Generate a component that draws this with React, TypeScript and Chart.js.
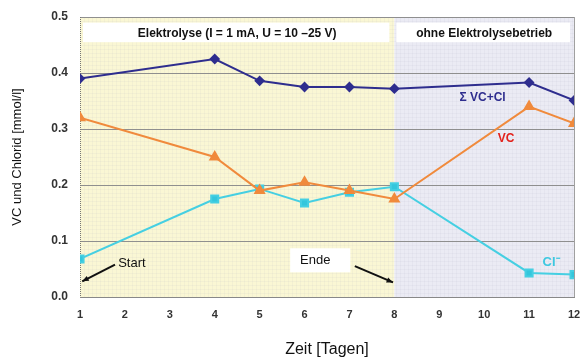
import React, { useEffect, useRef } from "react";
import { Chart, registerables } from "chart.js";

Chart.register(...registerables);

const days = [1, 4, 5, 6, 7, 8, 11, 12];
const sumValues = [0.39, 0.425, 0.386, 0.375, 0.375, 0.372, 0.383, 0.351];
const vcValues = [0.32, 0.25, 0.19, 0.205, 0.19, 0.175, 0.34, 0.31];
const clValues = [0.068, 0.175, 0.193, 0.168, 0.187, 0.197, 0.043, 0.04];
const xTicks = [1, 2, 3, 4, 5, 6, 7, 8, 9, 10, 11, 12];
const yTicks = [0, 0.1, 0.2, 0.3, 0.4, 0.5];
const phaseLabels = ["Elektrolyse (I = 1 mA, U = 10 –25 V)", "ohne Elektrolysebetrieb"];
const phaseBounds = [1, 8, 12];
const seriesNames = ["Σ VC+Cl", "VC", "Cl⁻"];

const FONT = "'Liberation Sans', Arial, sans-serif";

const overlayPlugin = {
  id: "overlay",
  beforeDatasetsDraw(chart: any) {
    const { ctx, chartArea, scales } = chart;
    const x = scales.x;
    const y = scales.y;
    const x1 = x.getPixelForValue(phaseBounds[0]);
    const x8 = x.getPixelForValue(phaseBounds[1]);
    const x12 = x.getPixelForValue(phaseBounds[2]);
    ctx.save();
    ctx.fillStyle = "#faf7d4";
    ctx.fillRect(x1, chartArea.top, x8 - x1, chartArea.bottom - chartArea.top);
    ctx.fillStyle = "#ebebf4";
    ctx.fillRect(x8, chartArea.top, x12 - x8, chartArea.bottom - chartArea.top);
    // fine texture grid
    ctx.strokeStyle = "rgba(150,150,185,0.07)";
    ctx.lineWidth = 1;
    for (let px = chartArea.left + 4; px < chartArea.right; px += 4) {
      ctx.beginPath();
      ctx.moveTo(Math.round(px) + 0.5, chartArea.top);
      ctx.lineTo(Math.round(px) + 0.5, chartArea.bottom);
      ctx.stroke();
    }
    for (let py = chartArea.top + 4; py < chartArea.bottom; py += 4) {
      ctx.beginPath();
      ctx.moveTo(chartArea.left, Math.round(py) + 0.5);
      ctx.lineTo(chartArea.right, Math.round(py) + 0.5);
      ctx.stroke();
    }
    // main grid lines
    ctx.strokeStyle = "#8f8f8f";
    for (const t of yTicks) {
      if (t === 0) continue;
      const py = Math.round(y.getPixelForValue(t)) + 0.5;
      ctx.beginPath();
      ctx.moveTo(chartArea.left, py);
      ctx.lineTo(chartArea.right, py);
      ctx.stroke();
    }
    // frame
    ctx.strokeStyle = "#a0a0a0";
    ctx.beginPath();
    ctx.moveTo(chartArea.right + 0.5, chartArea.top);
    ctx.lineTo(chartArea.right + 0.5, chartArea.bottom);
    ctx.stroke();
    ctx.strokeStyle = "#777";
    ctx.setLineDash([1, 1]);
    ctx.beginPath();
    ctx.moveTo(chartArea.left + 0.5, chartArea.top);
    ctx.lineTo(chartArea.left + 0.5, chartArea.bottom);
    ctx.stroke();
    ctx.setLineDash([]);
    // phase label boxes
    const boxTop = y.getPixelForValue(0.49);
    const boxBot = y.getPixelForValue(0.455);
    ctx.fillStyle = "#ffffff";
    ctx.fillRect(x1 + 3, boxTop, x8 - x1 - 8, boxBot - boxTop);
    ctx.fillRect(x8 + 2, boxTop, x12 - x8 - 6, boxBot - boxTop);
    // Ende box
    const eL = x.getPixelForValue(5.68);
    const eR = x.getPixelForValue(7.02);
    const eT = y.getPixelForValue(0.087);
    const eB = y.getPixelForValue(0.044);
    ctx.fillRect(eL, eT, eR - eL, eB - eT);
    ctx.fillStyle = "#111";
    ctx.font = `bold 12px ${FONT}`;
    ctx.textAlign = "center";
    ctx.textBaseline = "middle";
    ctx.fillText(phaseLabels[0], (x1 + x8) / 2, (boxTop + boxBot) / 2 + 1);
    ctx.fillText(phaseLabels[1], (x8 + x12) / 2, (boxTop + boxBot) / 2 + 1);
    ctx.restore();
  },
  afterDatasetsDraw(chart: any) {
    const { ctx, scales } = chart;
    const x = scales.x;
    const y = scales.y;
    ctx.save();
    const arrow = (fx: number, fy: number, tx: number, ty: number) => {
      ctx.strokeStyle = "#111";
      ctx.fillStyle = "#111";
      ctx.lineWidth = 2;
      ctx.beginPath();
      ctx.moveTo(fx, fy);
      ctx.lineTo(tx, ty);
      ctx.stroke();
      const a = Math.atan2(ty - fy, tx - fx);
      ctx.beginPath();
      ctx.moveTo(tx, ty);
      ctx.lineTo(tx - 7 * Math.cos(a - 0.4), ty - 7 * Math.sin(a - 0.4));
      ctx.lineTo(tx - 7 * Math.cos(a + 0.4), ty - 7 * Math.sin(a + 0.4));
      ctx.closePath();
      ctx.fill();
    };
    ctx.font = `13px ${FONT}`;
    ctx.fillStyle = "#111";
    ctx.textAlign = "left";
    ctx.textBaseline = "middle";
    ctx.fillText("Start", x.getPixelForValue(1.85), y.getPixelForValue(0.06));
    arrow(x.getPixelForValue(1.78), y.getPixelForValue(0.058), x.getPixelForValue(1.05), y.getPixelForValue(0.028));
    ctx.fillStyle = "#111";
    ctx.fillText("Ende", x.getPixelForValue(5.9), y.getPixelForValue(0.066));
    arrow(x.getPixelForValue(7.12), y.getPixelForValue(0.055), x.getPixelForValue(7.97), y.getPixelForValue(0.026));
    ctx.font = `bold 12px ${FONT}`;
    ctx.fillStyle = "#2e2d8e";
    ctx.fillText(seriesNames[0], x.getPixelForValue(9.45), y.getPixelForValue(0.356));
    ctx.fillStyle = "#e3211b";
    ctx.fillText(seriesNames[1], x.getPixelForValue(10.3), y.getPixelForValue(0.282));
    ctx.fillStyle = "#3cc8e0";
    ctx.font = `bold 13px ${FONT}`;
    ctx.fillText(seriesNames[2], x.getPixelForValue(11.3), y.getPixelForValue(0.062));
    ctx.restore();
  },
};

export default function App() {
  const ref = useRef<HTMLCanvasElement>(null);
  useEffect(() => {
    document.body.style.margin = "0";
    const mk = (vals: number[]) => days.map((d, i) => ({ x: d, y: vals[i] }));
    const chart = new Chart(ref.current!, {
      type: "line",
      data: {
        datasets: [
          {
            label: seriesNames[0],
            data: mk(sumValues),
            borderColor: "#2e2d8e",
            backgroundColor: "#2e2d8e",
            borderWidth: 2,
            pointStyle: "rectRot",
            pointRadius: 4,
          },
          {
            label: seriesNames[1],
            data: mk(vcValues),
            borderColor: "#f08a3c",
            backgroundColor: "#f08a3c",
            borderWidth: 2,
            pointStyle: "triangle",
            pointRadius: 5,
          },
          {
            label: seriesNames[2],
            data: mk(clValues),
            borderColor: "#45cfe2",
            backgroundColor: "#33c6dc",
            borderWidth: 2,
            pointStyle: "rect",
            pointRadius: 5,
          },
        ],
      },
      options: {
        animation: false,
        responsive: false,
        layout: { padding: { left: 0, right: 9, top: 17, bottom: 0 } },
        plugins: { legend: { display: false }, tooltip: { enabled: false } },
        scales: {
          x: {
            type: "linear",
            min: 1,
            max: 12,
            afterBuildTicks: (s: any) => {
              s.ticks = xTicks.map((v) => ({ value: v }));
            },
            afterFit: (s: any) => {
              s.height = 66;
              s.paddingLeft = 0;
              s.paddingRight = 0;
            },
            ticks: { color: "#333", font: { family: FONT, size: 11, weight: "bold" }, padding: 6 },
            grid: { display: false, drawTicks: true, tickLength: 5, color: "#888" },
            border: { color: "#888" },
            title: {
              display: true,
              text: "Zeit [Tagen]",
              color: "#111",
              font: { family: FONT, size: 16 },
              padding: { top: 18 },
            },
          },
          y: {
            min: 0,
            max: 0.5,
            afterBuildTicks: (s: any) => {
              s.ticks = yTicks.map((v) => ({ value: v }));
            },
            afterFit: (s: any) => {
              s.width = 80;
              s.paddingTop = 0;
              s.paddingBottom = 0;
            },
            ticks: {
              color: "#333",
              font: { family: FONT, size: 12, weight: "bold" },
              padding: 4,
              callback: (v: any) => Number(v).toFixed(1),
            },
            grid: { display: false },
            border: { display: false },
            title: {
              display: true,
              text: "VC und Chlorid [mmol/l]",
              color: "#111",
              font: { family: FONT, size: 13 },
              padding: { top: 10, bottom: 0 },
            },
          },
        },
      },
      plugins: [overlayPlugin],
    } as any);
    return () => chart.destroy();
  }, []);
  return (
    <div style={{ width: 583, height: 363 }}>
      <canvas ref={ref} width={583} height={363} />
    </div>
  );
}
